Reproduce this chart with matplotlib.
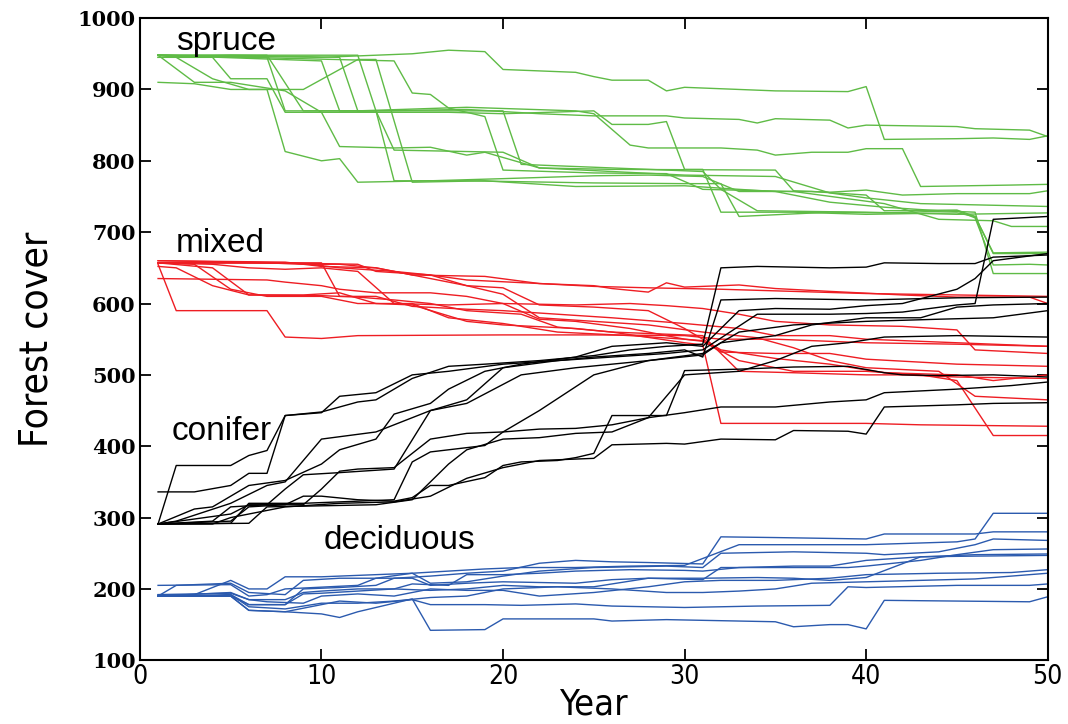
import matplotlib
matplotlib.use("Agg")
import matplotlib.pyplot as plt
from matplotlib import font_manager as fm

# knots (year, cover) for each simulated run
spruce = [
    [(1,948),(10,945),(13,948),(15,950),(17,955),(19,953),(20,928),(24,924),(25,918),(26,913),(28,913),(29,898),(30,903),(33,900),(35,898),(39,897),(40,904),(41,830),(45,831),(47,832),(49,830),(50,835)],
    [(1,948),(7,948),(9,870),(13,870),(18,872),(22,866),(25,863),(29,863),(30,860),(33,858),(34,853),(35,859),(38,857),(39,846),(40,850),(45,848),(46,845),(49,843),(50,834)],
    [(1,945),(5,948),(11,945),(12,870),(18,875),(24,870),(25,866),(27,822),(28,818),(32,818),(34,815),(35,808),(37,812),(39,812),(40,817),(42,817),(43,764),(48,766),(50,767)],
    [(1,948),(3,910),(5,910),(8,898),(10,868),(17,868),(20,866),(25,870),(26,851),(28,851),(29,855),(30,788),(31,788),(32,728),(36,728),(40,725),(45,727),(46,722),(47,670),(50,670)],
    [(1,945),(4,945),(5,915),(7,915),(8,868),(10,868),(11,820),(14,818),(16,819),(18,808),(19,812),(22,790),(26,788),(35,787),(36,758),(38,756),(40,759),(42,752),(45,754),(49,754),(50,758)],
    [(1,948),(10,940),(11,870),(13,870),(14,815),(20,812),(22,790),(26,785),(30,780),(35,778),(38,755),(40,748),(43,740),(50,736)],
    [(1,910),(3,908),(5,900),(7,900),(8,813),(10,800),(11,803),(12,770),(16,772),(20,775),(25,779),(28,780),(31,778),(33,757),(37,757),(40,752),(41,730),(45,731),(46,722),(47,671),(50,672)],
    [(1,948),(12,948),(13,870),(14,772),(18,772),(25,769),(30,768),(32,768),(33,722),(38,728),(41,727),(45,730),(46,720),(47,654),(49,655),(50,654)],
    [(1,948),(2,945),(4,915),(6,900),(9,900),(12,942),(13,942),(15,770),(19,772),(24,764),(30,765),(33,760),(35,757),(38,742),(41,735),(44,730),(46,728),(47,642),(50,642)],
    [(1,948),(14,940),(15,895),(16,893),(17,874),(19,862),(20,787),(25,783),(29,782),(31,760),(36,757),(41,740),(44,718),(47,716),(48,708),(50,708)],
    [(1,948),(6,945),(7,945),(8,870),(20,870),(21,795),(26,790),(31,785),(32,760),(34,730),(40,728),(45,725),(50,727)],
]

mixed = [
    [(1,657),(5,657),(9,656),(11,650),(14,645),(16,640),(18,633),(22,628),(25,625),(26,621),(28,616),(29,629),(30,623),(33,626),(35,621),(38,617),(42,612),(45,609),(49,609),(50,600)],
    [(1,660),(8,658),(10,652),(13,650),(15,640),(19,638),(22,628),(25,624),(28,622),(32,620),(36,617),(40,614),(45,612),(50,610)],
    [(1,655),(2,590),(7,590),(8,553),(10,551),(12,555),(20,556),(25,556),(30,555),(32,550),(35,550),(40,545),(45,543),(50,540)],
    [(1,635),(7,633),(8,630),(10,625),(11,620),(13,615),(16,615),(18,610),(20,600),(24,598),(27,600),(29,597),(31,593),(33,585),(35,575),(38,570),(42,568),(45,563),(46,535),(50,530)],
    [(1,657),(4,650),(6,612),(9,612),(11,615),(13,600),(15,598),(18,575),(20,570),(24,565),(26,560),(30,545),(31,542),(32,432),(35,432),(40,432),(43,430),(50,428)],
    [(1,657),(3,655),(5,620),(7,610),(10,610),(12,600),(15,600),(17,580),(20,572),(23,560),(27,555),(30,550),(31,547),(33,520),(36,505),(40,505),(43,500),(45,492),(47,415),(50,415)],
    [(1,657),(10,657),(11,610),(13,610),(15,596),(18,592),(20,590),(23,585),(26,580),(30,572),(33,565),(35,555),(38,555),(40,550),(45,545),(50,540)],
    [(1,657),(4,655),(6,650),(8,648),(10,650),(12,645),(14,600),(17,598),(20,600),(22,578),(24,575),(27,565),(30,550),(31,548),(32,532),(35,530),(38,530),(40,522),(45,515),(50,512)],
    [(1,652),(2,650),(4,625),(6,612),(10,611),(12,609),(14,605),(16,600),(18,590),(21,585),(23,567),(26,560),(28,558),(31,555),(33,505),(36,503),(40,500),(42,500),(45,497),(50,495)],
    [(1,660),(12,655),(13,645),(16,640),(18,625),(20,622),(22,598),(25,595),(28,590),(30,565),(32,535),(35,523),(38,515),(41,503),(45,500),(47,492),(50,500)],
    [(1,657),(7,657),(9,655),(11,655),(13,650),(18,625),(20,613),(22,580),(25,575),(28,570),(31,560),(34,552),(36,538),(38,520),(40,510),(44,505),(46,470),(50,465)],
]

conifer = [
    [(1,291),(2,373),(5,373),(6,387),(7,394),(8,443),(10,448),(12,462),(13,465),(15,495),(17,512),(19,515),(22,520),(25,527),(27,535),(29,540),(31,543),(32,650),(34,652),(38,650),(40,651),(41,657),(44,656),(46,656),(47,665),(50,668)],
    [(1,336),(3,336),(5,345),(6,362),(7,362),(8,443),(10,447),(11,470),(13,475),(15,500),(17,505),(20,515),(23,520),(25,525),(28,530),(30,535),(31,525),(32,605),(35,607),(40,605),(45,608),(50,609)],
    [(1,291),(3,312),(4,315),(5,330),(6,345),(8,352),(10,375),(11,395),(13,410),(14,445),(16,460),(17,480),(19,505),(21,515),(24,525),(26,540),(29,545),(31,540),(33,590),(35,593),(38,592),(40,597),(42,600),(45,620),(46,635),(47,660),(50,670)],
    [(1,291),(4,295),(5,315),(7,318),(8,340),(9,360),(11,363),(14,368),(16,450),(18,465),(20,510),(23,520),(26,525),(29,530),(31,535),(34,585),(38,585),(40,586),(42,588),(45,598),(46,600),(47,718),(50,722)],
    [(1,291),(5,292),(6,320),(9,320),(14,325),(15,378),(16,392),(19,401),(20,420),(22,450),(25,500),(28,520),(31,530),(33,560),(36,570),(40,575),(44,578),(47,580),(50,590)],
    [(1,291),(3,298),(5,305),(6,318),(9,318),(10,340),(11,365),(12,368),(14,370),(16,410),(18,418),(20,420),(22,424),(24,425),(26,430),(28,440),(30,500),(33,505),(35,520),(37,540),(39,545),(41,553),(45,555),(50,553)],
    [(1,291),(5,295),(6,315),(8,318),(9,330),(10,330),(12,325),(14,323),(15,328),(16,345),(17,345),(19,356),(20,373),(21,378),(23,380),(24,384),(25,390),(26,443),(29,443),(30,506),(33,508),(36,511),(39,512),(41,503),(42,500),(44,499),(47,500),(50,497)],
    [(1,291),(6,292),(7,315),(13,318),(15,325),(17,375),(18,395),(20,410),(22,412),(24,418),(26,420),(28,440),(30,447),(32,455),(35,455),(38,462),(40,465),(41,475),(45,480),(48,485),(50,490)],
    [(1,291),(4,291),(5,300),(8,315),(11,320),(14,322),(16,330),(18,355),(20,370),(22,380),(25,383),(26,402),(29,404),(30,403),(32,410),(35,409),(36,422),(39,421),(40,417),(41,455),(45,458),(47,460),(50,461)],
    [(1,291),(2,295),(5,320),(7,345),(8,350),(10,410),(13,420),(16,450),(18,460),(21,500),(24,510),(28,520),(31,528),(32,545),(35,555),(37,570),(40,580),(43,580),(45,595),(47,598),(50,600)],
]

deciduous = [
    [(1,190),(4,190),(5,192),(6,178),(8,178),(9,200),(11,202),(13,205),(14,215),(16,218),(18,222),(20,225),(22,236),(24,240),(26,238),(28,237),(31,235),(32,273),(35,272),(40,270),(41,277),(46,277),(47,280),(50,280)],
    [(1,190),(2,205),(5,208),(6,195),(8,192),(9,212),(11,215),(13,215),(15,222),(17,225),(19,228),(21,230),(24,230),(27,232),(30,233),(33,262),(38,262),(40,262),(45,266),(46,270),(47,306),(50,306)],
    [(1,192),(3,192),(4,202),(5,212),(6,200),(7,200),(8,217),(10,217),(13,220),(15,222),(16,208),(18,210),(20,218),(22,225),(25,230),(29,232),(31,230),(32,250),(36,252),(40,250),(41,248),(44,252),(46,262),(47,270),(50,268)],
    [(1,205),(5,206),(6,190),(7,192),(8,200),(12,205),(13,215),(15,215),(16,205),(18,208),(20,210),(24,208),(26,213),(28,215),(31,213),(32,230),(35,230),(39,230),(40,232),(43,240),(45,248),(47,255),(50,256)],
    [(1,190),(5,195),(6,185),(8,185),(9,195),(10,197),(12,200),(14,200),(15,207),(17,205),(18,220),(20,220),(22,222),(24,225),(27,227),(30,226),(31,225),(33,230),(36,232),(38,232),(40,240),(43,245),(46,248),(50,249)],
    [(1,190),(5,190),(6,178),(8,178),(9,193),(10,194),(12,197),(14,200),(16,198),(18,200),(20,205),(22,203),(25,203),(28,215),(31,215),(34,216),(36,215),(38,212),(40,216),(43,245),(46,246),(50,247)],
    [(1,192),(5,194),(6,185),(7,182),(9,180),(10,190),(12,193),(14,190),(16,200),(18,198),(20,198),(22,190),(25,195),(28,203),(30,210),(32,212),(35,212),(38,215),(40,220),(44,222),(48,223),(50,227)],
    [(1,190),(5,192),(6,175),(8,172),(10,180),(12,180),(14,183),(16,188),(18,190),(20,200),(23,203),(26,200),(29,195),(31,195),(33,197),(35,200),(37,208),(40,210),(43,212),(46,214),(50,222)],
    [(1,190),(5,190),(6,170),(8,168),(10,178),(11,183),(13,180),(15,185),(16,178),(19,178),(21,177),(24,179),(26,176),(30,174),(34,176),(38,177),(39,203),(40,202),(45,205),(49,205),(50,207)],
    [(1,190),(5,190),(6,170),(8,168),(10,165),(11,160),(12,168),(15,186),(16,142),(19,143),(20,158),(25,158),(26,155),(29,157),(35,154),(36,147),(38,150),(39,150),(40,144),(41,184),(49,182),(50,189)],
]

group_colors = {"spruce": "#5fbb46", "mixed": "#ee1d23", "conifer": "black", "deciduous": "#2b5aae"}
group_labels = [("spruce", 4.75, 967), ("mixed", 4.4, 684), ("conifer", 4.5, 421), ("deciduous", 14.3, 268)]
x_ticks = [0, 10, 20, 30, 40, 50]
y_ticks = [100, 200, 300, 400, 500, 600, 700, 800, 900, 1000]

# condensed face for axis labels (DejaVu ships a condensed variant)
narrow = fm.FontProperties(family="DejaVu Sans", stretch="condensed")
sans = "Liberation Sans"

fig = plt.figure(figsize=(10.68, 7.24), dpi=100)
ax = fig.add_axes([0.131, 0.088, 0.850, 0.887])

for name, runs in [("spruce", spruce), ("mixed", mixed), ("conifer", conifer), ("deciduous", deciduous)]:
    for run in runs:
        xs = [p[0] for p in run]
        ys = [p[1] for p in run]
        ax.plot(xs, ys, color=group_colors[name], lw=1.0)

for text, x, y in group_labels:
    ax.text(x, y, text, fontsize=24, family=sans, ha="center", va="center")

ax.set_xlim(0, 50)
ax.set_ylim(100, 1000)
ax.set_xticks(x_ticks)
ax.set_yticks(y_ticks)
ax.set_xticklabels([str(t) for t in x_ticks], fontproperties=narrow, fontsize=19)
ax.set_yticklabels([str(t) for t in y_ticks], family="DejaVu Serif", fontsize=15, fontweight="bold")
ax.tick_params(direction="in", length=8, width=1.3, top=True, right=True, pad=3)
for s in ax.spines.values():
    s.set_linewidth(1.5)

xl = ax.set_xlabel("Year", labelpad=-2)
xl.set_fontproperties(narrow)
xl.set_fontsize(26)
yl = ax.set_ylabel("Forest cover", labelpad=16)
yl.set_fontproperties(narrow)
yl.set_fontsize(28)

fig.savefig("out.png", dpi=100)
